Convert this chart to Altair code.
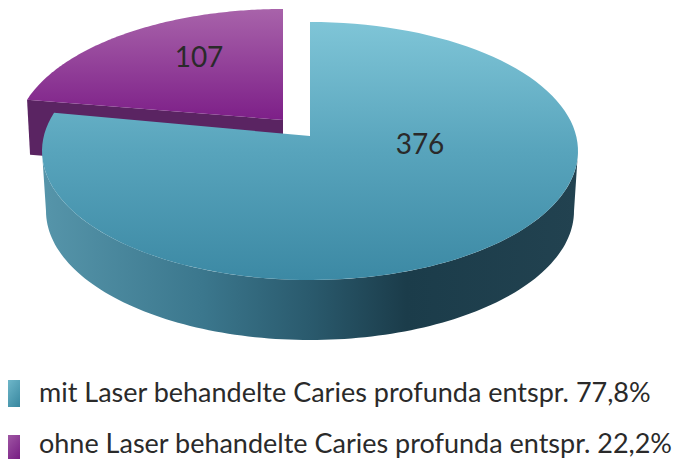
import math
import altair as alt
import pandas as pd

# Chart values
values = [376, 107]
value_labels = ["376", "107"]
legend_labels = [
    "mit Laser behandelte Caries profunda entspr. 77,8%",
    "ohne Laser behandelte Caries profunda entspr. 22,2%",
]

# Pie projection (screen-space units of the x/y scales)
RX, RY = 268, 129
CX, CY = 310, 151
APEX_Y = 136
DEPTH = 60
BASE_RX = 264
SKEW = 7            # perspective shift of the slice boundary, degrees
OFF_X, OFF_Y = -27, -13   # purple slice exploded offset
OFF_APEX_Y = 120
OFF_DEPTH = 55

share = values[0] / sum(values)
end_angle = 360 * share + SKEW


def ell(theta, cx, cy, rx=RX, ry=RY):
    t = math.radians(theta)
    return (cx + rx * math.sin(t), cy - ry * math.cos(t))


def arc(a, b, cx, cy, rx=RX, ry=RY, n=120):
    return [ell(a + (b - a) * i / n, cx, cy, rx, ry) for i in range(n + 1)]


def frame(points):
    return pd.DataFrame(
        [{"x": p[0], "y": p[1], "i": i} for i, p in enumerate(points)]
    )


X = alt.Scale(domain=[8, 676], range=[0, 668], nice=False, zero=False)
Y = alt.Scale(domain=[8, 459], range=[0, 451], nice=False, zero=False)


def poly(points, fill):
    return (
        alt.Chart(frame(points))
        .mark_line(fill=fill, strokeWidth=0, interpolate="linear", clip=False)
        .encode(
            x=alt.X("x:Q", scale=X, axis=None),
            y=alt.Y("y:Q", scale=Y, axis=None),
            order="i:Q",
        )
    )


def grad(stops, x1=0, y1=0, x2=0, y2=1):
    return alt.LinearGradient(
        gradient="linear",
        x1=x1, y1=y1, x2=x2, y2=y2,
        stops=[alt.GradientStop(offset=o, color=c) for o, c in stops],
    )


teal_top = grad([(0, "#7fc5d7"), (0.5, "#58a4bc"), (1, "#3c89a4")])
teal_side = grad(
    [(0, "#5695aa"), (0.3, "#3b778d"), (0.5, "#2a5a6d"), (0.68, "#1b3c4a"), (1, "#224250")],
    x2=1, y2=0,
)
purple_top = grad([(0, "#a863aa"), (1, "#7d1f88")])
purple_side = "#5a2462"
teal_swatch = grad([(0, "#7cc3d4"), (1, "#38879f")], x2=1, y2=1)
purple_swatch = grad([(0, "#a965ac"), (1, "#761b82")], x2=1, y2=1)

# Slices
pcx, pcy = CX + OFF_X, CY + OFF_Y
p_outer = arc(end_angle, 360, pcx, pcy)
p_apex = (pcx, OFF_APEX_Y)

purple_side_pts = [
    p_outer[0],
    p_apex,
    (p_apex[0], p_apex[1] + OFF_DEPTH),
    (p_outer[0][0] + 3, p_outer[0][1] + OFF_DEPTH),
]
purple_top_pts = [p_apex] + p_outer

teal_side_pts = arc(90, 270, CX, CY) + arc(270, 90, CX, CY + DEPTH, BASE_RX, RY)
teal_top_pts = [(CX, APEX_Y)] + arc(0, end_angle, CX, CY)

# Legend
swatch_df = pd.DataFrame({"x": [0, 20], "y": [380, 407]})
swatch_df2 = pd.DataFrame({"x": [0, 20], "y": [435, 460]})


def swatch(df, fill):
    return poly(
        [(df.x[0], df.y[0]), (df.x[1], df.y[0]), (df.x[1], df.y[1]), (df.x[0], df.y[1])],
        fill,
    )


def text(df, size, align):
    return (
        alt.Chart(df)
        .mark_text(
            font="Lato",
            fontSize=size,
            align=align,
            baseline="middle",
            color="#2a2a2a",
        )
        .encode(
            x=alt.X("x:Q", scale=X, axis=None),
            y=alt.Y("y:Q", scale=Y, axis=None),
            text="t:N",
        )
    )


value_df = pd.DataFrame({"x": [420, 199], "y": [146, 59], "t": value_labels})
legend_df = pd.DataFrame({"x": [39, 39], "y": [394, 445], "t": legend_labels})

chart = (
    alt.layer(
        poly(purple_side_pts, purple_side),
        poly(purple_top_pts, purple_top),
        poly(teal_side_pts, teal_side),
        poly(teal_top_pts, teal_top),
        swatch(swatch_df, teal_swatch),
        swatch(swatch_df2, purple_swatch),
        text(value_df, 28, "center"),
        text(legend_df, 27, "left"),
    )
    .properties(
        width=668, height=451, padding=0, background="white",
        autosize=alt.AutoSizeParams(type="none", contains="content"),
    )
    .configure_view(stroke=None)
)

chart.save("out.html", embed_options={"renderer": "svg", "actions": False})
